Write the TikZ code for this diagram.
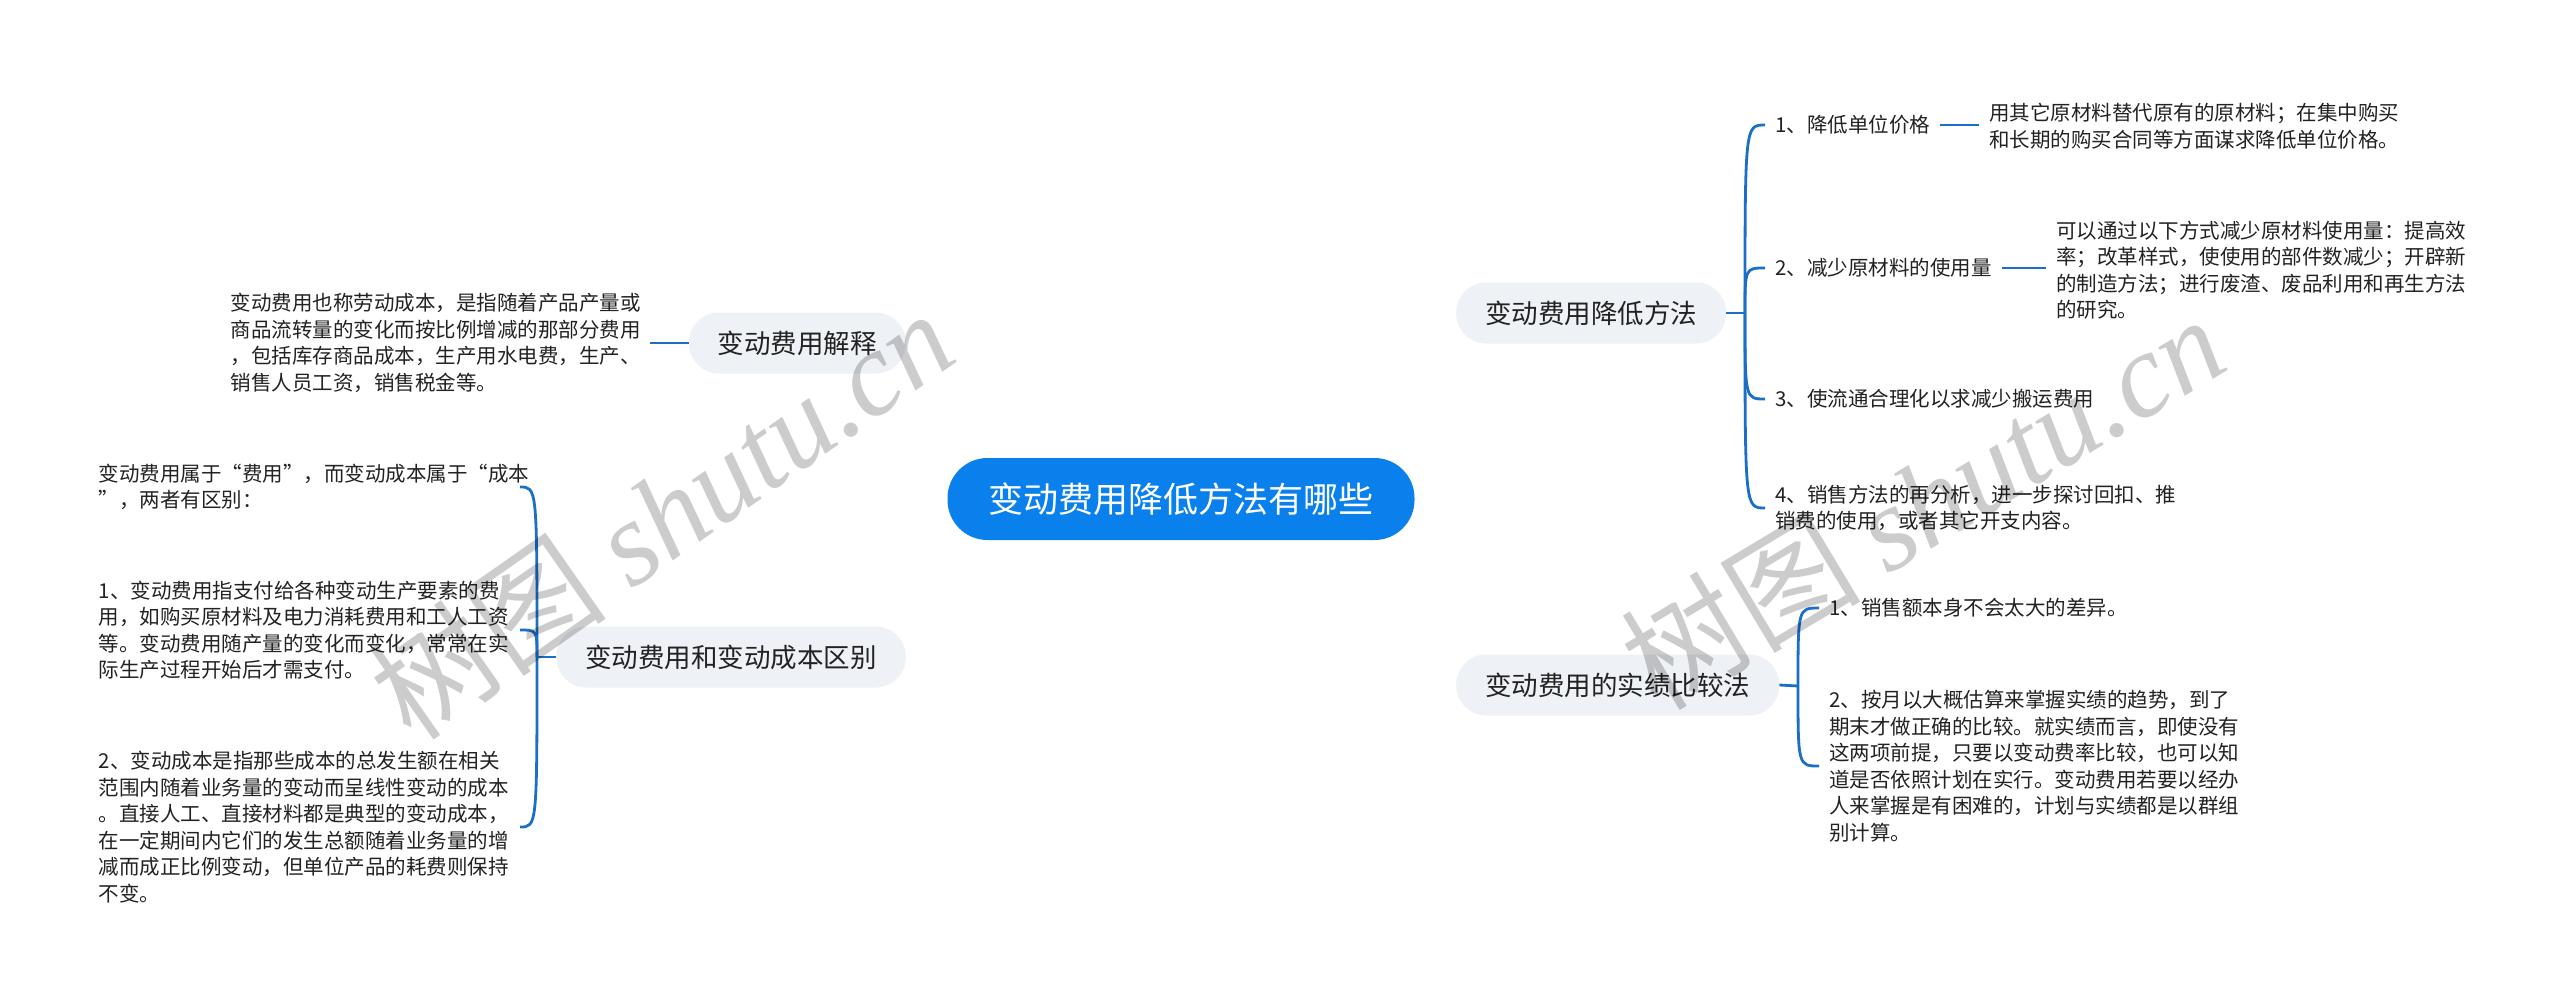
\documentclass[tikz,border=0pt]{standalone}
\usepackage{fontspec}
\setmainfont{Noto Sans CJK SC}
\newfontfamily\cjkwm{Noto Sans CJK SC}
\newfontfamily\wmserif{Liberation Serif}
\usetikzlibrary{calc}
\pgfdeclarelayer{bg}
\pgfsetlayers{bg,main}
\definecolor{lineblue}{HTML}{1B6FC8}
\definecolor{rootblue}{HTML}{0A80EC}
\definecolor{boxgray}{HTML}{EEF1F5}
\definecolor{txt}{HTML}{222222}
\begin{document}
\begin{tikzpicture}[x=1pt,y=-1pt,
  conn/.style={draw=lineblue,line width=2.8pt},
  rootbox/.style={fill=rootblue,text=white,rounded corners=40pt,minimum width=467pt,minimum height=82pt,inner sep=0pt,font=\fontsize{35}{40}\selectfont},
  topic/.style={fill=boxgray,text=txt,rounded corners=30pt,minimum height=61pt,inner xsep=29pt,inner ysep=0pt,font=\fontsize{26.5}{30}\selectfont},
  leaf/.style={text=txt,inner xsep=10pt,inner ysep=0pt,align=left,font=\fontsize{20.5}{26.5}\selectfont},
  wm/.style={text=black,text opacity=0.2,inner sep=0pt}
]
\useasboundingbox (0,0) rectangle (2560,1004);
\fill[white] (0,0) rectangle (2560,1004);

% root and main topics
\node[rootbox] (root) at (1181,499) {变动费用降低方法有哪些};
\node[topic,anchor=west] (t1) at (1456,313) {变动费用降低方法};
\node[topic,anchor=east] (t2) at (906,343) {变动费用解释};
\node[topic,anchor=east] (t3) at (906,657) {变动费用和变动成本区别};
\node[topic,anchor=west] (t4) at (1456,685) {变动费用的实绩比较法};

% right top leaves
\node[leaf,anchor=west] (a1) at (1765,125) {1、降低单位价格};
\node[leaf,anchor=west] (a2) at (1765,268) {2、减少原材料的使用量};
\node[leaf,anchor=west] (a3) at (1765,399) {3、使流通合理化以求减少搬运费用};
\node[leaf,anchor=west] (a4) at (1765,508) {4、销售方法的再分析，进一步探讨回扣、推\\销费的使用，或者其它开支内容。};
\node[leaf,anchor=west] (d1) at (1979,126) {用其它原材料替代原有的原材料；在集中购买\\和长期的购买合同等方面谋求降低单位价格。};
\node[leaf,anchor=west] (d2) at (2046,270) {可以通过以下方式减少原材料使用量：提高效\\率；改革样式，使使用的部件数减少；开辟新\\的制造方法；进行废渣、废品利用和再生方法\\的研究。};

% right bottom leaves
\node[leaf,anchor=west] (e1) at (1819,608) {1、销售额本身不会太大的差异。};
\node[leaf,anchor=west] (e2) at (1819,766) {2、按月以大概估算来掌握实绩的趋势，到了\\期末才做正确的比较。就实绩而言，即使没有\\这两项前提，只要以变动费率比较，也可以知\\道是否依照计划在实行。变动费用若要以经办\\人来掌握是有困难的，计划与实绩都是以群组\\别计算。};

% left leaves
\node[leaf,anchor=east,text width=419pt,inner xsep=0pt] (g) at (650,343) {变动费用也称劳动成本，是指随着产品产量或\\商品流转量的变化而按比例增减的那部分费用\\，包括库存商品成本，生产用水电费，生产、\\销售人员工资，销售税金等。};
\node[leaf,anchor=east,text width=421pt,inner xsep=0pt] (f1) at (520,487) {变动费用属于“费用”，而变动成本属于“成本\\”，两者有区别：};
\node[leaf,anchor=east,text width=421pt,inner xsep=0pt] (f2) at (520,630) {1、变动费用指支付给各种变动生产要素的费\\用，如购买原材料及电力消耗费用和工人工资\\等。变动费用随产量的变化而变化，常常在实\\际生产过程开始后才需支付。};
\node[leaf,anchor=east,text width=421pt,inner xsep=0pt] (f3) at (520,827) {2、变动成本是指那些成本的总发生额在相关\\范围内随着业务量的变动而呈线性变动的成本\\。直接人工、直接材料都是典型的变动成本，\\在一定期间内它们的发生总额随着业务量的增\\减而成正比例变动，但单位产品的耗费则保持\\不变。};

\coordinate (s1) at (1745,313);
\coordinate (s3) at (537,657);
\coordinate (s4) at (1798,686);

\begin{pgfonlayer}{bg}
  \draw[conn] (root.center) .. controls +(30,-170) and +(-150,0) .. (t1.west);
  \draw[conn] (root.center) .. controls +(-15,-140) and +(150,0) .. (t2.east);
  \draw[conn] (root.center) .. controls +(-15,140) and +(150,0) .. (t3.east);
  \draw[conn] (root.center) .. controls +(30,170) and +(-150,0) .. (t4.west);
\end{pgfonlayer}

\draw[conn] (t1.east) -- (s1);
\foreach \n in {a1,a2,a3,a4} {
  \draw[conn] (s1) .. controls (s1 |- \n.west) .. (\n.west);
}
\draw[conn] (a1.east) -- (a1.east -| d1.west);
\draw[conn] (a2.east) -- (a2.east -| d2.west);

\draw[conn] (t2.west) -- (g.east);

\draw[conn] (t3.west) -- (s3);
\foreach \n in {f1,f2,f3} {
  \draw[conn] (s3) .. controls (s3 |- \n.east) .. (\n.east);
}

\draw[conn] (t4.east) -- (s4);
\foreach \n in {e1,e2} {
  \draw[conn] (s4) .. controls (s4 |- \n.west) .. (\n.west);
}

% watermarks
\node[wm,rotate=35] (wm1) at (661,514) {\fontsize{120}{120}\selectfont{\cjkwm 树图} {\wmserif\itshape shutu.cn}};
\node[wm,rotate=31] (wm2) at (1922,501) {\fontsize{120}{120}\selectfont{\cjkwm 树图} {\wmserif\itshape shutu.cn}};
\end{tikzpicture}
\end{document}
